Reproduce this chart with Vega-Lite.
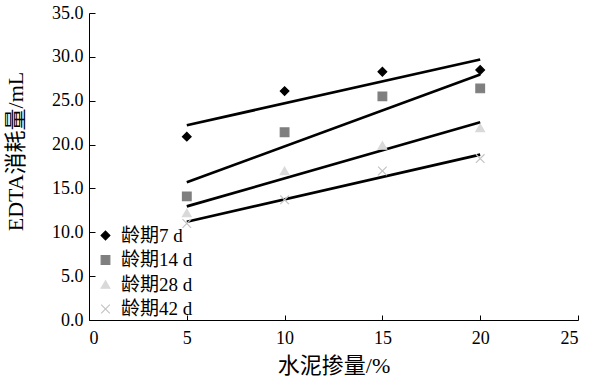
{
  "$schema": "https://vega.github.io/schema/vega-lite/v6.json",
  "width": 489,
  "height": 307,
  "autosize": {"type": "none"},
  "padding": {"left": 89, "top": 13, "right": 11, "bottom": 68},
  "background": "white",
  "config": {
    "view": {"stroke": null},
    "font": "Liberation Serif",
    "axis": {
      "grid": false,
      "domainColor": "black",
      "tickColor": "black",
      "labelColor": "black",
      "titleColor": "black",
      "labelFont": "Liberation Serif",
      "labelFontSize": 18,
      "titleFont": "Liberation Serif, Noto Sans CJK SC",
      "titleFontSize": 22,
      "titleFontWeight": "normal"
    },
    "legend": {
      "labelFont": "Liberation Serif, Noto Sans CJK SC",
      "labelFontSize": 19,
      "labelColor": "black"
    }
  },
  "data": {
    "values": [
      {"cement": 5, "value": 20.9, "age": "龄期7 d"},
      {"cement": 10, "value": 26.1, "age": "龄期7 d"},
      {"cement": 15, "value": 28.3, "age": "龄期7 d"},
      {"cement": 20, "value": 28.5, "age": "龄期7 d"},
      {"cement": 5, "value": 14.1, "age": "龄期14 d"},
      {"cement": 10, "value": 21.4, "age": "龄期14 d"},
      {"cement": 15, "value": 25.5, "age": "龄期14 d"},
      {"cement": 20, "value": 26.4, "age": "龄期14 d"},
      {"cement": 5, "value": 12.2, "age": "龄期28 d"},
      {"cement": 10, "value": 17.0, "age": "龄期28 d"},
      {"cement": 15, "value": 19.9, "age": "龄期28 d"},
      {"cement": 20, "value": 21.9, "age": "龄期28 d"},
      {"cement": 5, "value": 11.0, "age": "龄期42 d"},
      {"cement": 10, "value": 13.7, "age": "龄期42 d"},
      {"cement": 15, "value": 17.0, "age": "龄期42 d"},
      {"cement": 20, "value": 18.4, "age": "龄期42 d"}
    ]
  },
  "layer": [
    {
      "transform": [
        {"regression": "value", "on": "cement", "groupby": ["age"], "extent": [5, 20], "method": "linear"}
      ],
      "mark": {"type": "line", "color": "black", "strokeWidth": 2.7},
      "encoding": {
        "x": {"field": "cement", "type": "quantitative"},
        "y": {"field": "value", "type": "quantitative"},
        "detail": {"field": "age", "type": "nominal"}
      }
    },
    {
      "mark": {"type": "point", "filled": true, "size": 75, "strokeWidth": 1.2, "opacity": 1},
      "encoding": {
        "x": {
          "field": "cement",
          "type": "quantitative",
          "scale": {"domain": [0, 25], "nice": false},
          "axis": {
            "title": "水泥掺量/%",
            "values": [0, 5, 10, 15, 20, 25],
            "tickSize": -5,
            "labelPadding": 14,
            "titlePadding": 8
          }
        },
        "y": {
          "field": "value",
          "type": "quantitative",
          "scale": {"domain": [0, 35], "nice": false},
          "axis": {
            "title": "EDTA消耗量/mL",
            "values": [0, 5, 10, 15, 20, 25, 30, 35],
            "format": ".1f",
            "tickSize": -6,
            "labelPadding": 12,
            "titleX": -62,
            "titleY": 138,
            "titleAlign": "center"
          }
        },
        "shape": {
          "field": "age",
          "type": "nominal",
          "sort": ["龄期7 d", "龄期14 d", "龄期28 d", "龄期42 d"],
          "scale": {
            "domain": ["龄期7 d", "龄期14 d", "龄期28 d", "龄期42 d"],
            "range": ["diamond", "square", "triangle-up", "M-1,-1L1,1M1,-1L-1,1"]
          }
        },
        "color": {
          "field": "age",
          "type": "nominal",
          "sort": ["龄期7 d", "龄期14 d", "龄期28 d", "龄期42 d"],
          "scale": {
            "domain": ["龄期7 d", "龄期14 d", "龄期28 d", "龄期42 d"],
            "range": ["#000000", "#7f7f7f", "#d9d9d9", "#c4c4c4"]
          },
          "legend": {
            "title": null,
            "orient": "none",
            "legendX": 7,
            "legendY": 213,
            "padding": 0,
            "rowPadding": 4.5,
            "symbolSize": 75,
            "symbolStrokeWidth": 1.2,
            "labelOffset": 6
          }
        },
        "stroke": {
          "field": "age",
          "type": "nominal",
          "sort": ["龄期7 d", "龄期14 d", "龄期28 d", "龄期42 d"],
          "scale": {
            "domain": ["龄期7 d", "龄期14 d", "龄期28 d", "龄期42 d"],
            "range": ["#000000", "#7f7f7f", "#d9d9d9", "#c4c4c4"]
          }
        }
      }
    }
  ]
}
